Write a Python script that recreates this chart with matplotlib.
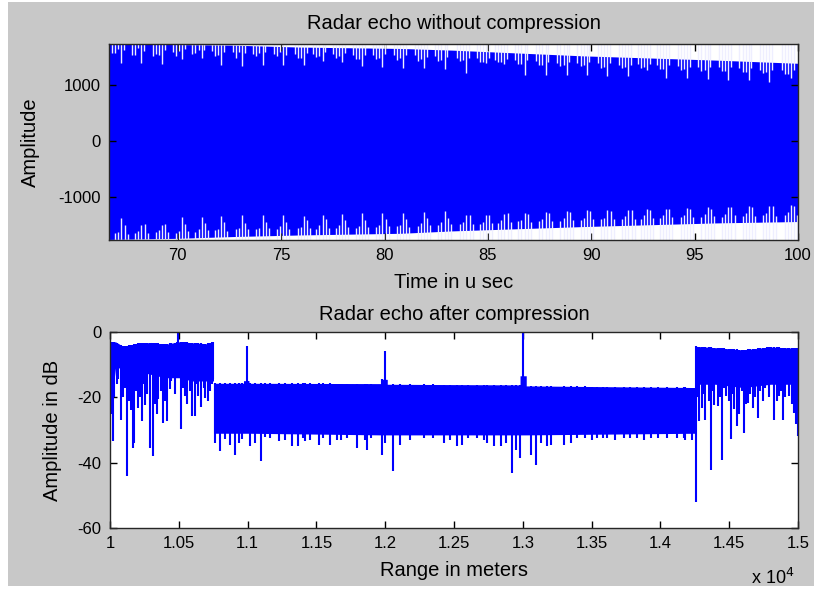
import numpy as np
import matplotlib
matplotlib.use("Agg")
import matplotlib.pyplot as plt
from matplotlib.patches import Rectangle
from matplotlib.ticker import FixedLocator, FormatStrFormatter

plt.rcParams["font.family"] = ["Liberation Sans", "DejaVu Sans"]
plt.rcParams["axes.unicode_minus"] = False

# ---------------- Top panel: raw radar echo ----------------
echo_t = [66.67, 70.0, 72.7, 75.9, 80.8, 83.3, 89.6, 96.1, 100.0]
echo_upper = [1730, 1725, 1714, 1680, 1655, 1625, 1523, 1446, 1390]
echo_lower = [-1760, -1740, -1708, -1680, -1650, -1607, -1530, -1464, -1440]

# times of the strongest pulse groups (us)
group_t = [67.27, 68.24, 69.24, 70.2, 71.15, 72.1, 73.1, 74.1, 75.1, 76.1,
           77.0, 77.95, 78.9, 79.9, 80.9, 81.9, 82.9, 83.96, 84.9, 85.8,
           86.77, 87.79, 88.81, 89.78, 90.78, 91.8, 92.7, 93.61, 94.63,
           95.63, 96.63, 97.62, 98.62, 99.67]
top_offsets = [-0.45, -0.3, -0.15, 0.0, 0.13]
top_dip = [
    [150, 160, 90, 330, 110], [190, 190, 60, 330, 120], [200, 170, 180, 350, 90],
    [140, 200, 110, 250, 80], [160, 150, 90, 240, 100], [110, 200, 180, 360, 120],
    [120, 220, 120, 360, 130], [150, 190, 120, 340, 110], [140, 170, 90, 330, 150],
    [130, 200, 200, 320, 100], [120, 180, 160, 250, 90], [110, 180, 150, 260, 100],
    [120, 200, 190, 330, 120], [130, 190, 180, 340, 110], [120, 200, 170, 340, 120],
    [110, 210, 180, 330, 130], [120, 200, 190, 340, 120], [130, 180, 170, 400, 120],
    [120, 190, 180, 200, 110], [140, 180, 170, 210, 120], [130, 200, 190, 380, 110],
    [120, 190, 200, 370, 130], [140, 200, 180, 360, 120], [130, 190, 170, 340, 110],
    [120, 200, 190, 350, 120], [140, 190, 180, 340, 130], [120, 180, 170, 220, 110],
    [130, 200, 190, 340, 120], [120, 190, 180, 330, 130], [140, 200, 190, 340, 120],
    [130, 190, 180, 350, 110], [120, 200, 190, 340, 120], [140, 190, 180, 350, 130],
    [130, 200, 190, 260, 120]]
bot_offsets = [-0.3, -0.15, 0.0, 0.15, 0.3]
bot_dip = [
    [120, 130, 380, 260, 90], [110, 140, 240, 260, 100], [120, 150, 250, 260, 110],
    [100, 130, 380, 260, 120], [110, 150, 370, 250, 130], [120, 140, 380, 260, 110],
    [130, 150, 380, 240, 120], [120, 140, 370, 250, 130], [110, 160, 360, 240, 110],
    [120, 150, 330, 260, 120], [100, 170, 350, 270, 110], [120, 160, 360, 250, 130],
    [110, 150, 370, 240, 120], [120, 160, 360, 260, 130], [130, 150, 370, 250, 110],
    [120, 160, 370, 250, 120], [110, 170, 360, 240, 130], [120, 160, 280, 280, 120],
    [110, 150, 270, 270, 110], [120, 160, 280, 280, 130], [130, 150, 270, 260, 120],
    [120, 160, 280, 270, 110], [110, 170, 280, 270, 120], [120, 160, 290, 280, 130],
    [130, 150, 280, 260, 120], [120, 160, 280, 280, 110], [110, 170, 280, 260, 120],
    [120, 160, 270, 270, 130], [130, 150, 280, 270, 110], [120, 170, 290, 260, 120],
    [110, 160, 280, 280, 130], [120, 170, 290, 270, 120], [130, 160, 280, 280, 110],
    [120, 170, 290, 280, 120]]

# ---------------- Bottom panel: compressed echo (dB) ----------------
band_x = [1.0, 1.004, 1.01, 1.02, 1.03, 1.04, 1.05, 1.06, 1.07, 1.0752, 1.0752,
          1.097, 1.097, 1.101, 1.101, 1.197, 1.197, 1.2015, 1.2015, 1.298, 1.298,
          1.3025, 1.3025, 1.4258, 1.4258, 1.44, 1.46, 1.48, 1.5]
band_upper = [-3.2, -3.0, -4.5, -3.5, -3.2, -3.8, -3.0, -3.3, -3.6, -3.0, -15.7,
              -15.7, -14.9, -14.9, -15.7, -15.8, -14.5, -14.5, -16.0, -16.2, -13.4,
              -13.4, -16.5, -17.0, -4.4, -4.8, -5.5, -4.6, -5.0]
band_lower = [-25, -11, -11, -12, -13, -14, -14, -15, -15, -15, -31,
              -31, -31, -31, -31, -31.5, -31.5, -31.5, -31.5, -31.5, -31.5,
              -31.5, -31.5, -31, -16, -16, -17, -16, -16]

dip_x = [1.0005, 1.0024, 1.0061, 1.0080, 1.0121, 1.0141, 1.0167, 1.0177, 1.0201,
         1.0230, 1.0255, 1.0291, 1.0315, 1.0340, 1.0352, 1.0388, 1.0412, 1.0437,
         1.0485, 1.0517, 1.0546, 1.0599, 1.0619, 1.0643, 1.0691, 1.0728, 1.0745,
         1.0764, 1.0801, 1.0837, 1.0873, 1.0910, 1.0934, 1.0958, 1.1002, 1.1019,
         1.1055, 1.1099, 1.1128, 1.1164, 1.1225, 1.1273, 1.1322, 1.1366, 1.1419,
         1.1516, 1.1600, 1.1680, 1.1795, 1.1868, 1.1977, 1.2000, 1.2060, 1.2111,
         1.2180, 1.2280, 1.2426, 1.2523, 1.2560, 1.2669, 1.2742, 1.2790, 1.2838,
         1.2875, 1.2923, 1.2948, 1.2979, 1.3000, 1.3057, 1.3093, 1.3130, 1.3178,
         1.3202, 1.3299, 1.3348, 1.3397, 1.3542, 1.3615, 1.3736, 1.3833, 1.3930,
         1.3979, 1.4124, 1.4172, 1.4233, 1.4260, 1.4282, 1.4299, 1.4326, 1.4367,
         1.4391, 1.4415, 1.4447, 1.4476, 1.4512, 1.4537, 1.4556, 1.4573, 1.4604,
         1.4634, 1.4670, 1.4711, 1.4743, 1.4774, 1.4803, 1.4828, 1.4864, 1.4888,
         1.4925, 1.4937, 1.4968, 1.4985, 1.4998]
dip_db = [-25.0, -33.4, -14.5, -26.8, -44.2, -21.1, -35.5, -33.9, -23.2,
          -27.3, -22.2, -35.5, -38.0, -25.2, -20.6, -27.8, -27.3, -17.5,
          -13.9, -29.8, -19.6, -25.7, -25.7, -19.6, -20.1, -18.1, -14.5,
          -33.9, -36.5, -32.9, -34.5, -37.5, -33.9, -32.9, -25.7, -35.0,
          -33.9, -39.6, -32.0, -32.5, -33.5, -33.0, -35.0, -35.0, -33.5,
          -34.5, -34.5, -33.0, -35.5, -36.0, -37.5, -34.0, -42.7, -34.5,
          -33.0, -32.4, -33.9, -35.0, -34.5, -32.5, -33.9, -35.0, -35.0,
          -33.9, -43.2, -36.0, -38.6, -27.7, -37.6, -40.6, -33.9, -35.0,
          -34.5, -34.5, -33.9, -32.5, -32.5, -32.4, -32.5, -32.4, -32.5,
          -32.4, -32.5, -32.4, -33.0, -51.9, -27.3, -23.2, -26.8, -42.2,
          -22.2, -22.7, -39.1, -19.6, -32.9, -23.7, -28.8, -25.2, -30.9,
          -21.6, -23.2, -26.3, -21.1, -13.9, -16.0, -26.8, -19.6, -26.8,
          -13.9, -19.6, -24.7, -28.3, -31.9]
# shorter ripples of the compressed echo
fine_x = [1.0012, 1.0032, 1.0050, 1.0092, 1.0108, 1.0150, 1.0190, 1.0218,
          1.0245, 1.0270, 1.0330, 1.0370, 1.0400, 1.0445, 1.0470, 1.0530,
          1.0560, 1.0580, 1.0625, 1.0660, 1.0680, 1.0710, 1.0738,
          1.1400, 1.1450, 1.1550, 1.1650, 1.1720, 1.1850, 1.1900, 1.2350,
          1.2470, 1.2600, 1.2720, 1.3450, 1.3500, 1.3580, 1.3670, 1.3780,
          1.3880, 1.4050, 1.4180,
          1.4272, 1.4310, 1.4350, 1.4385, 1.4430, 1.4460, 1.4500, 1.4525,
          1.4560, 1.4590, 1.4620, 1.4650, 1.4690, 1.4725, 1.4760, 1.4790,
          1.4845, 1.4875, 1.4905, 1.4955]
fine_db = [-18, -20, -16, -20, -17, -24, -18, -20,
           -16, -19, -22, -18, -21, -15, -19, -17,
           -22, -18, -16, -23, -17, -21, -16,
           -32.5, -33, -32.5, -33, -32.5, -33, -32.5, -32.5,
           -33, -32.5, -33, -32.5, -33, -32.5, -33, -32.5,
           -33, -32.5, -33,
           -20, -19, -21, -18, -20, -17, -21, -19,
           -20, -18, -22, -19, -20, -18, -17, -20,
           -21, -18, -20, -22]
peak_x = [1.0497, 1.0995, 1.1995, 1.3003]
peak_db = [0.0, -4.2, -5.7, 0.0]

# ---------------- Figure ----------------
W, H = 823, 590
fig = plt.figure(figsize=(W / 100, H / 100), dpi=100, facecolor="white")
fig.patches.append(Rectangle((8 / W, 4 / H), (814 - 8) / W, (588 - 4) / H,
                             transform=fig.transFigure, facecolor="#c8c8c8",
                             edgecolor="none", zorder=-10))

def px_axes(l, t, r, b):
    return fig.add_axes([l / W, 1 - b / H, (r - l) / W, (b - t) / H])

blue = "#0000ff"
tick_fs = 12
lab_fs = 14.5

def style(ax):
    ax.set_facecolor("white")
    ax.tick_params(direction="in", length=5, width=1, top=True, right=True,
                   labelsize=tick_fs, pad=6)
    for s in ax.spines.values():
        s.set_linewidth(1)
        s.set_color("#262626")

# Top
ax1 = px_axes(109, 44, 798, 240)
ax1.fill_between(echo_t, echo_lower, echo_upper, color=blue, lw=0, zorder=1)
for gt, dips in zip(group_t, top_dip):
    for off, d in zip(top_offsets, dips):
        t = gt + off
        if echo_t[0] < t < echo_t[-1]:
            u = np.interp(t, echo_t, echo_upper)
            ax1.vlines(t, u - d, 1800, color="#eeeeff", lw=1.0, zorder=2)
for gt, dips in zip(group_t, bot_dip):
    for off, d in zip(bot_offsets, dips):
        t = gt + off
        if echo_t[0] < t < echo_t[-1]:
            lo = np.interp(t, echo_t, echo_lower)
            ax1.vlines(t, -1800, lo + d, color="#eeeeff", lw=1.0, zorder=2)
ax1.set_xlim(66.67, 100)
ax1.set_ylim(-1770, 1735)
ax1.xaxis.set_major_locator(FixedLocator([70, 75, 80, 85, 90, 95, 100]))
ax1.yaxis.set_major_locator(FixedLocator([-1000, 0, 1000]))
style(ax1)
ax1.set_title("Radar echo without compression", fontsize=lab_fs, pad=11)
ax1.set_xlabel("Time in u sec", fontsize=lab_fs, labelpad=7)
ax1.set_ylabel("Amplitude", fontsize=lab_fs)
ax1.yaxis.set_label_coords(-0.1002, 0.5)

# Bottom
ax2 = px_axes(110, 332, 798, 528)
ax2.fill_between(band_x, band_lower, band_upper, color=blue, lw=0, zorder=1)
ax2.vlines(dip_x, dip_db, np.interp(dip_x, band_x, band_upper),
           color=blue, lw=1.5, zorder=2)
ax2.vlines(fine_x, fine_db, np.interp(fine_x, band_x, band_upper),
           color=blue, lw=1.5, zorder=2)
ax2.vlines(peak_x, np.interp(peak_x, band_x, band_lower), peak_db,
           color=blue, lw=1.5, zorder=2)
ax2.set_xlim(1.0, 1.5)
ax2.set_ylim(-60, 0)
ax2.xaxis.set_major_locator(FixedLocator(np.round(np.arange(1.0, 1.501, 0.05), 2)))
ax2.xaxis.set_major_formatter(FormatStrFormatter("%g"))
ax2.yaxis.set_major_locator(FixedLocator([-60, -40, -20, 0]))
style(ax2)
ax2.set_title("Radar echo after compression", fontsize=lab_fs, pad=9)
ax2.set_xlabel("Range in meters", fontsize=lab_fs, labelpad=7)
ax2.set_ylabel("Amplitude in dB", fontsize=lab_fs)
ax2.yaxis.set_label_coords(-0.0698, 0.5)
fig.text(751 / W, 1 - 578 / H, r"x 10$^4$", fontsize=13, ha="left", va="center")

fig.savefig("out.png", dpi=100, facecolor=fig.get_facecolor())
